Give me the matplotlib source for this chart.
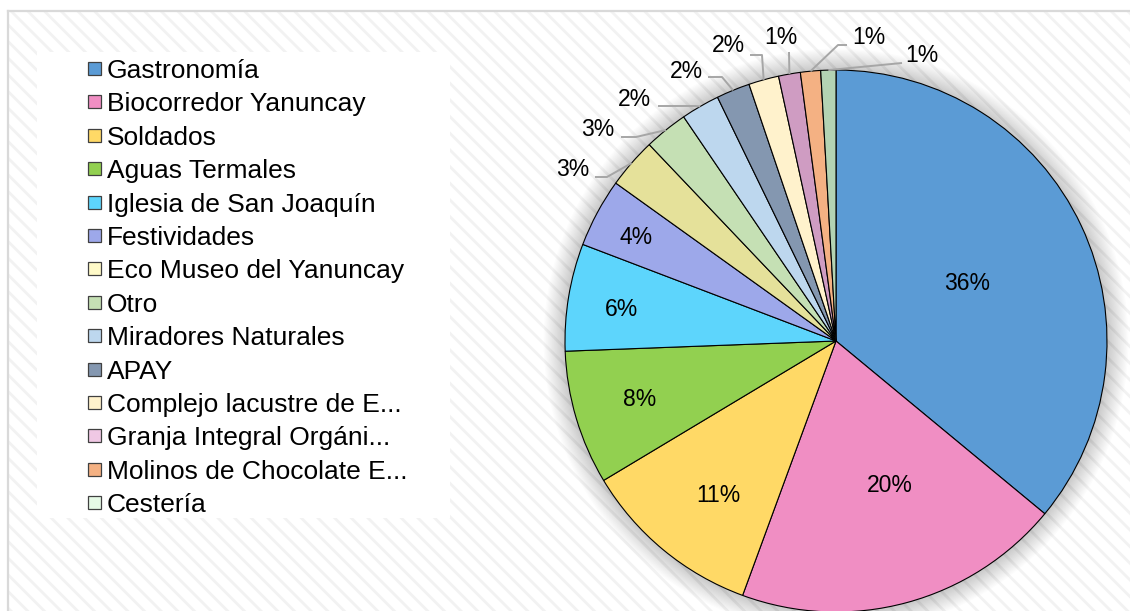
import numpy as np
import matplotlib
matplotlib.use("Agg")
import matplotlib.pyplot as plt
from matplotlib.patches import Rectangle, Circle

plt.rcParams['font.family'] = ['Liberation Sans', 'DejaVu Sans']
plt.rcParams['hatch.color'] = '#F2F2F2'
plt.rcParams['hatch.linewidth'] = 2.0

# ---------------- data ----------------
categories = ["Gastronomía", "Biocorredor Yanuncay", "Soldados", "Aguas Termales",
              "Iglesia de San Joaquín", "Festividades", "Eco Museo del Yanuncay", "Otro",
              "Miradores Naturales", "APAY", "Complejo lacustre de E...",
              "Granja Integral Orgáni...", "Molinos de Chocolate E...", "Cestería"]
values = [36.0, 19.6, 10.8, 8.0, 6.4, 4.1, 3.0, 2.6, 2.3, 2.0, 1.8, 1.3, 1.2, 0.9]
pie_colors = ["#5B9BD5", "#F08EC3", "#FFD966", "#92D050", "#5DD5FC", "#9DA8EA",
              "#E5E19A", "#C5E0B4", "#BDD7EE", "#8497B0", "#FFF2CC", "#CF9CC2",
              "#F4B183", "#B3D3B3"]
legend_colors = ["#5B9BD5", "#F08EC3", "#FFD966", "#92D050", "#5DD5FC", "#9DA8EA",
                 "#FFFAC8", "#C5E0B4", "#BDD7EE", "#8497B0", "#FFF2CC", "#F0C8E4",
                 "#F4B183", "#E6FAE6"]

# ---------------- layout (pixels, y measured from top) ----------------
W, H = 1130, 611
cx, cy, R = 836, 341, 271
inside_pos = [(967, 284), (890, 486), (718, 495), (640, 400), (621, 310), (636, 237)]
outside_pos = [(573, 170), (598, 130), (634, 100), (686, 71), (728, 46),
               (781, 38), (869, 38), (922, 56)]
leader_start = [[(595, 177), (607, 177)], [(621, 137), (636, 137)],
                [(658, 106), (695, 106)], [(708, 77), (722, 77)],
                [(750, 55), (762, 55)], [(789, 52)], [(847, 45), (838, 45)],
                [(902, 63)]]


def Y(y):
    return H - y


fig = plt.figure(figsize=(W / 100, H / 100), dpi=100)
ax = fig.add_axes([0, 0, 1, 1])

# chart area background with diagonal stripes
bg = Rectangle((8, Y(H + 5)), W, H - 11 + 5, facecolor='white', hatch='\\\\',
               edgecolor='#F2F2F2', linewidth=0, zorder=0)
ax.add_patch(bg)
ax.plot([8, 8], [Y(11), Y(H + 5)], color='#D9D9D9', lw=1.6, zorder=1)
ax.plot([8, W + 5], [Y(11), Y(11)], color='#D9D9D9', lw=1.6, zorder=1)

# soft shadow around pie
for k in range(18):
    ax.add_patch(Circle((cx, Y(cy)), R + 1 + k * 1.2, facecolor='black',
                        edgecolor='none', alpha=0.013, zorder=2))

wedges, _ = ax.pie(values, colors=pie_colors, startangle=90, counterclock=False,
                   center=(cx, Y(cy)), radius=R,
                   wedgeprops=dict(edgecolor='black', linewidth=0.8))
for w in wedges:
    w.set_zorder(3)

ax.set_xlim(0, W)
ax.set_ylim(0, H)
ax.set_aspect('equal')
ax.axis('off')

labels = ["%.0f%%" % v for v in values]
fs_pct = 16.5
for i, (x, y) in enumerate(inside_pos):
    ax.text(x, Y(y), labels[i], ha='center', va='center', fontsize=fs_pct,
            color='black', zorder=5)

for j, (x, y) in enumerate(outside_pos):
    i = len(inside_pos) + j
    w = wedges[i]
    mid = np.deg2rad((w.theta1 + w.theta2) / 2)
    ex, ey = cx + R * np.cos(mid), Y(cy) + R * np.sin(mid)
    pts = [(px, Y(py)) for px, py in leader_start[j]] + [(ex, ey)]
    xs, ys = zip(*pts)
    ax.plot(xs, ys, color='#A6A6A6', lw=1.4, zorder=4, solid_capstyle='butt')
    ax.text(x, Y(y), labels[i], ha='center', va='center', fontsize=fs_pct,
            color='black', zorder=5)

# legend box
ax.add_patch(Rectangle((37, Y(518)), 413, 518 - 52, facecolor='white',
                       edgecolor='none', zorder=4))
for i, (name, col) in enumerate(zip(categories, legend_colors)):
    yc = 68.5 + i * 33.4
    ax.add_patch(Rectangle((88, Y(yc + 6.5)), 13, 13, facecolor=col,
                           edgecolor='#404040', lw=0.9, zorder=5))
    ax.text(107, Y(yc + 9.5), name, ha='left', va='baseline', fontsize=19,
            color='black', zorder=5)

fig.savefig("out.png", dpi=100)
